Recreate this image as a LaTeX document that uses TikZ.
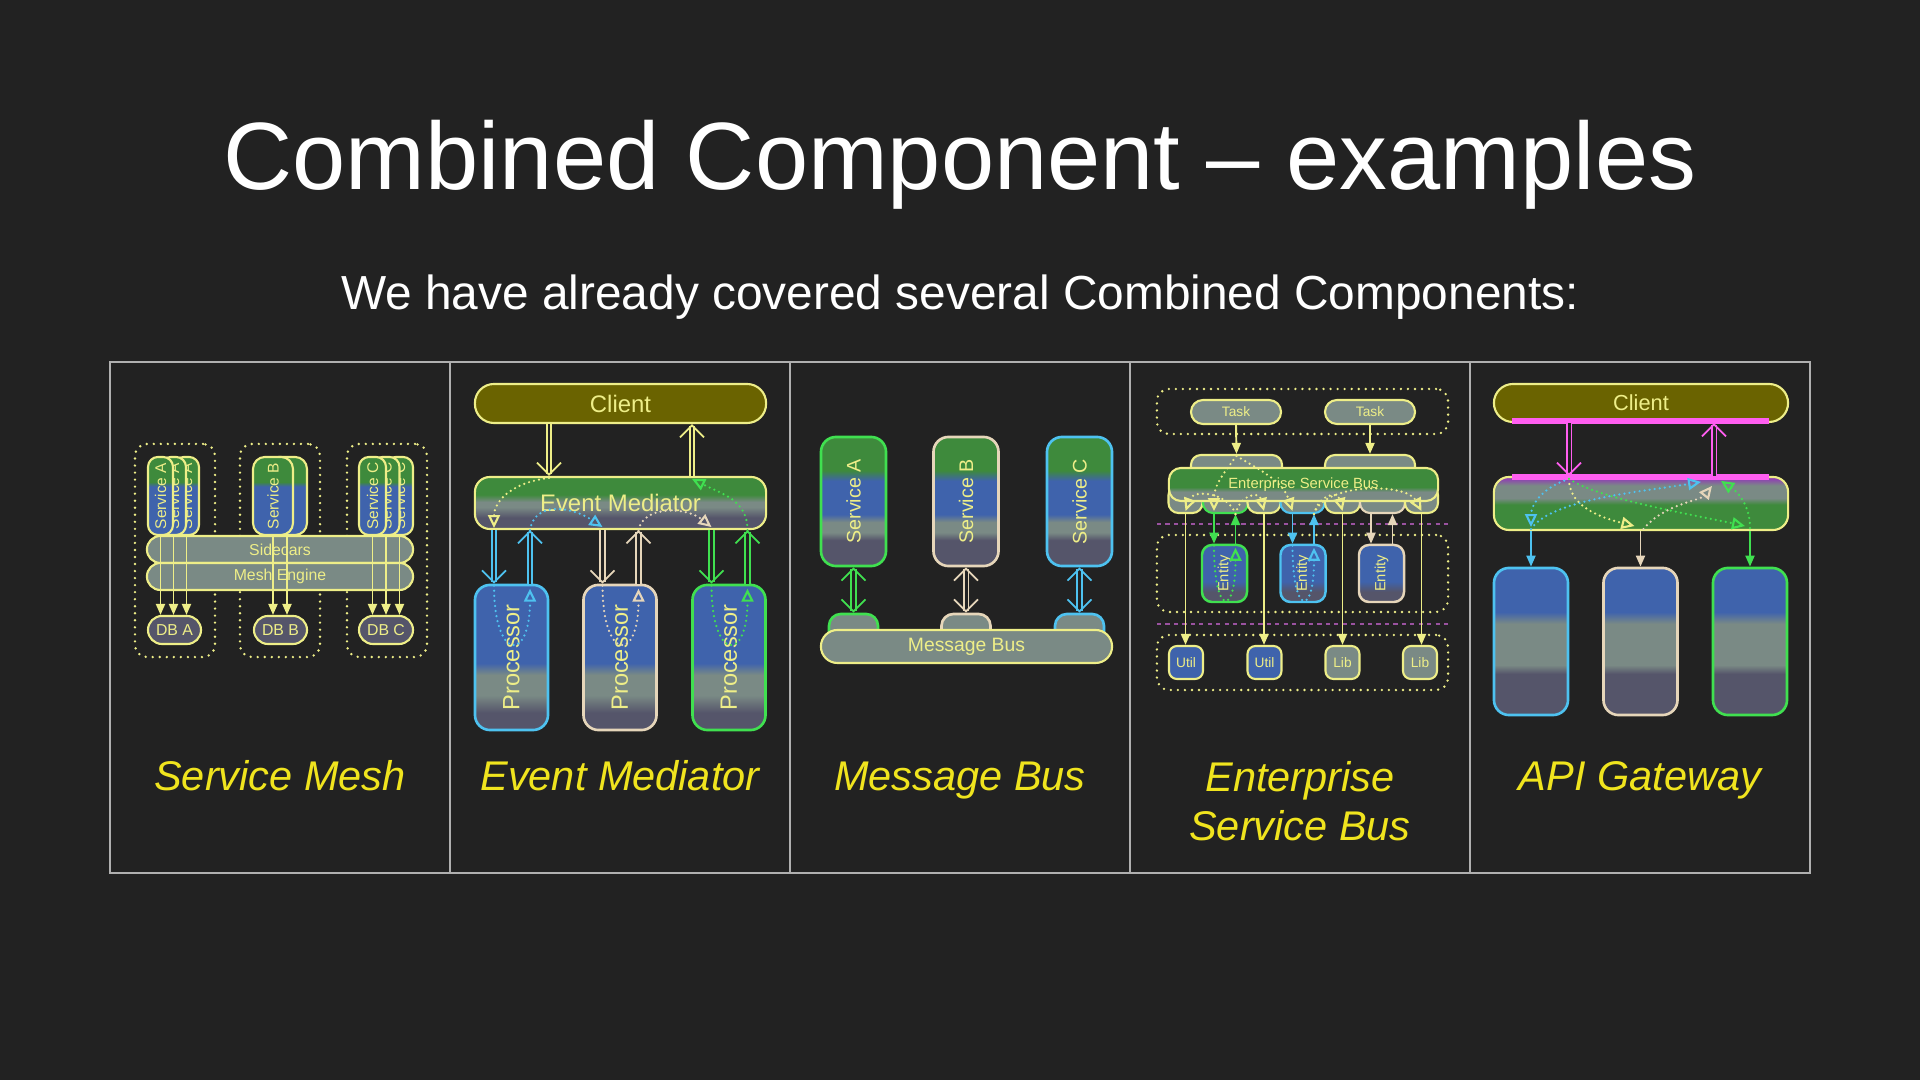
\documentclass[tikz,border=0pt]{standalone}
\usepackage{fontspec}
\setmainfont{Liberation Sans}
\usetikzlibrary{arrows.meta, calc, positioning}

\definecolor{BgColor}{HTML}{222222}
\definecolor{FrameGray}{HTML}{B0B0B0}
\definecolor{LineYellow}{HTML}{EEEE88}
\definecolor{CapYellow}{HTML}{F0E41E}
\definecolor{OliveFill}{HTML}{6A6300}
\definecolor{FillGreen}{HTML}{3E8A3C}
\definecolor{FillBlue}{HTML}{3F63AC}
\definecolor{FillGray}{HTML}{7A8A85}
\definecolor{FillDark}{HTML}{55556A}
\definecolor{FillPurple}{HTML}{8E44B0}
\definecolor{EdgeBlue}{HTML}{4EC2F0}
\definecolor{EdgeBeige}{HTML}{E6D6BA}
\definecolor{EdgeGreen}{HTML}{40E050}
\definecolor{PortMagenta}{HTML}{FF5EF0}
\definecolor{SepPurple}{HTML}{9A52A0}

% vertical shadings, path maps to 25bp..75bp
\pgfdeclareverticalshading{meshSvc}{100bp}{color(0bp)=(FillBlue); color(56bp)=(FillBlue); color(59bp)=(FillGreen); color(100bp)=(FillGreen)}
\pgfdeclareverticalshading{busSvc}{100bp}{color(0bp)=(FillDark); color(35bp)=(FillDark); color(38bp)=(FillGray); color(42bp)=(FillGray); color(45bp)=(FillBlue); color(58bp)=(FillBlue); color(62bp)=(FillGreen); color(100bp)=(FillGreen)}
\pgfdeclareverticalshading{procShade}{100bp}{color(0bp)=(FillDark); color(31bp)=(FillDark); color(37bp)=(FillGray); color(44bp)=(FillGray); color(48bp)=(FillBlue); color(100bp)=(FillBlue)}
\pgfdeclareverticalshading{emShade}{100bp}{color(0bp)=(FillDark); color(36bp)=(FillDark); color(46bp)=(FillGray); color(51bp)=(FillGray); color(58bp)=(FillGreen); color(100bp)=(FillGreen)}
\pgfdeclareverticalshading{gwShade}{100bp}{color(0bp)=(FillGreen); color(49bp)=(FillGreen); color(55bp)=(FillGray); color(67bp)=(FillGray); color(73bp)=(FillPurple); color(100bp)=(FillPurple)}
\pgfdeclareverticalshading{gwSvc}{100bp}{color(0bp)=(FillDark); color(39bp)=(FillDark); color(42bp)=(FillGray); color(56bp)=(FillGray); color(60bp)=(FillBlue); color(100bp)=(FillBlue)}
\pgfdeclareverticalshading{esbShade}{100bp}{color(0bp)=(FillGray); color(39bp)=(FillGray); color(46bp)=(FillGreen); color(100bp)=(FillGreen)}
\pgfdeclareverticalshading{entShade}{100bp}{color(0bp)=(FillDark); color(34bp)=(FillDark); color(43bp)=(FillBlue); color(100bp)=(FillBlue)}

\tikzset{
  lbl/.style={font=\fontsize{#1}{#1}\selectfont},
  box/.style={draw=LineYellow, line width=0.6pt, text=LineYellow, inner sep=0pt, align=center},
  grp/.style={draw=LineYellow, line width=0.75pt, dash pattern=on 0pt off 2pt, line cap=round, rounded corners=0.12cm, inner sep=0pt},
  flow/.style={line width=0.7pt, dash pattern=on 0pt off 1.45pt, line cap=round, -{Triangle[open,length=0.13cm,width=0.12cm,line width=0.6pt]}},
  dbl/.style={double=BgColor, line width=0.45pt, double distance=0.85pt, -{Straight Barb[length=0.12cm,width=0.24cm,line width=0.5pt]}},
  dblboth/.style={double=BgColor, line width=0.45pt, double distance=0.85pt, {Straight Barb[length=0.12cm,width=0.24cm,line width=0.5pt]}-{Straight Barb[length=0.12cm,width=0.24cm,line width=0.5pt]}},
  arr/.style={line width=0.55pt, -{Triangle[length=0.11cm,width=0.09cm]}},
  captext/.style={text=CapYellow, font=\fontsize{11.8}{14.2}\selectfont\itshape, align=center},
  sepline/.style={draw=SepPurple, line width=0.5pt, dash pattern=on 1.2pt off 1.2pt},
  portbar/.style={draw=PortMagenta, line width=1.9pt},
  panelframe/.style={draw=FrameGray, line width=0.6pt},
}

\begin{document}
\begin{tikzpicture}[x=0.01cm, y=-0.01cm]
  \path[use as bounding box, fill=BgColor] (0,0) rectangle (1920,1080);

  \node[text=white, font=\fontsize{27.2}{32}\selectfont, anchor=base] (title) at (960,190) {Combined Component -- examples};
  \node[text=white, font=\fontsize{13.6}{16}\selectfont, anchor=base] (subtitle) at (960,310) {We have already covered several Combined Components:};

  \foreach \x in {110,450,790,1130,1470}
    \draw[panelframe] (\x,362) rectangle ++(340,511);

  % ---- Service Mesh
  \node[grp, minimum width=0.8cm, minimum height=2.13cm] (grpA) at (175,550.5) {};
  \node[grp, minimum width=0.8cm, minimum height=2.13cm] (grpB) at (280,550.5) {};
  \node[grp, minimum width=0.8cm, minimum height=2.13cm] (grpC) at (387,550.5) {};
  \foreach \n/\x in {a3/186.5, a2/173.5, a1/160.5}
    \node[box, shade, shading=meshSvc, rounded corners=0.1cm, minimum width=0.25cm, minimum height=0.78cm, lbl=4.4] (\n) at (\x,496) {\rotatebox{90}{Service A}};
  \foreach \n/\x in {b2/287, b1/273}
    \node[box, shade, shading=meshSvc, rounded corners=0.12cm, minimum width=0.4cm, minimum height=0.78cm, lbl=4.4] (\n) at (\x,496) {\rotatebox{90}{Service B}};
  \foreach \n/\x in {c3/399.5, c2/386, c1/372.5}
    \node[box, shade, shading=meshSvc, rounded corners=0.1cm, minimum width=0.27cm, minimum height=0.78cm, lbl=4.4] (\n) at (\x,496) {\rotatebox{90}{Service C}};
  \node[box, fill=FillGray, rounded corners=0.135cm, minimum width=2.66cm, minimum height=0.27cm, lbl=4.5] (side) at (280,549.5) {Sidecars};
  \node[box, fill=FillGray, rounded corners=0.135cm, minimum width=2.66cm, minimum height=0.27cm, lbl=4.5] (engine) at (280,576.5) {Mesh Engine};
  \node[box, fill=FillDark, rounded corners=0.14cm, minimum width=0.53cm, minimum height=0.28cm, lbl=4.5] (dbA) at (174.5,630) {DB A};
  \node[box, fill=FillDark, rounded corners=0.14cm, minimum width=0.53cm, minimum height=0.28cm, lbl=4.5] (dbB) at (280.5,630) {DB B};
  \node[box, fill=FillDark, rounded corners=0.14cm, minimum width=0.54cm, minimum height=0.28cm, lbl=4.5] (dbC) at (386,630) {DB C};
  \foreach \s/\d in {a1/dbA, a2/dbA, a3/dbA, b1/dbB, b2/dbB, c1/dbC, c2/dbC, c3/dbC}
    \draw[arr, LineYellow] (\s.south) -- (\s.south |- \d.north);

  % ---- Event Mediator
  \node[box, fill=OliveFill, rounded corners=0.19cm, minimum width=2.91cm, minimum height=0.39cm, lbl=6.8] (cliE) at (620.5,403.5) {Client};
  \node[box, shade, shading=emShade, rounded corners=0.15cm, minimum width=2.91cm, minimum height=0.52cm, lbl=6.8] (med) at (620.5,503) {Event Mediator};
  \foreach \n/\x/\c in {p1/511.5/EdgeBlue, p2/620/EdgeBeige, p3/729/EdgeGreen}
    \node[box, shade, shading=procShade, draw=\c, line width=0.75pt, rounded corners=0.15cm, minimum width=0.73cm, minimum height=1.45cm, lbl=6.7] (\n) at (\x,657.5) {\rotatebox{90}{Processor}};
  \draw[dbl, LineYellow] ($(cliE.south)+(-71.5,0)$) -- ($(med.north)+(-71.5,0)$);
  \draw[dbl, LineYellow] ($(med.north)+(71.5,0)$) -- ($(cliE.south)+(71.5,0)$);
  \foreach \n/\c in {p1/EdgeBlue, p2/EdgeBeige, p3/EdgeGreen} {
    \draw[dbl, \c] ($(\n.north |- med.south)+(-17.5,0)$) -- ($(\n.north)+(-17.5,0)$);
    \draw[dbl, \c] ($(\n.north)+(18.5,0)$) -- ($(\n.north |- med.south)+(18.5,0)$);
    \draw[flow, \c] ($(\n.north)+(-17.5,2)$) .. controls +(0,75) and +(0,75) .. ($(\n.north)+(18.5,5)$);
  }
  \draw[flow, LineYellow] ($(med.north)+(-71.5,2)$) .. controls +(-40,5) and +(0,-25) .. ($(p1.north |- med.south)+(-17.5,-2)$);
  \draw[flow, EdgeBlue] ($(p1.north |- med.south)+(18.5,0)$) .. controls +(5,-30) and +(-30,-20) .. ($(p2.north |- med.south)+(-17.5,-3)$);
  \draw[flow, EdgeBeige] ($(p2.north |- med.south)+(18.5,0)$) .. controls +(5,-25) and +(-25,-20) .. ($(p3.north |- med.south)+(-17.5,-3)$);
  \draw[flow, EdgeGreen] ($(p3.north |- med.south)+(18.5,0)$) .. controls +(0,-30) and +(30,15) .. ($(med.north)+(71.5,3)$);

  % ---- Message Bus
  \foreach \n/\x/\c/\t in {sa/853.5/EdgeGreen/A, sb/966/EdgeBeige/B, sc/1079.5/EdgeBlue/C} {
    \node[box, shade, shading=busSvc, draw=\c, line width=0.75pt, rounded corners=0.15cm, minimum width=0.65cm, minimum height=1.29cm, lbl=5.6] (\n) at (\x,501.5) {\rotatebox{90}{Service \t}};
    \node[box, fill=FillGray, draw=\c, line width=0.75pt, rounded corners=0.12cm, minimum width=0.49cm, minimum height=0.3cm] (tab\n) at (\x,629) {};
  }
  \node[box, fill=FillGray, rounded corners=0.165cm, minimum width=2.91cm, minimum height=0.33cm, lbl=5.5] (bus) at (966.5,646.5) {Message Bus};
  \foreach \n/\c in {sa/EdgeGreen, sb/EdgeBeige, sc/EdgeBlue}
    \draw[dblboth, \c] (\n.south) -- (tab\n.north);

  % ---- Enterprise Service Bus
  \node[grp, minimum width=2.91cm, minimum height=0.45cm] (grpTask) at (1302.5,411.5) {};
  \node[box, fill=FillGray, rounded corners=0.12cm, minimum width=0.9cm, minimum height=0.24cm, lbl=3.9] (task1) at (1236,412) {Task};
  \node[box, fill=FillGray, rounded corners=0.12cm, minimum width=0.9cm, minimum height=0.24cm, lbl=3.9] (task2) at (1370,412) {Task};
  \node[box, fill=FillGray, rounded corners=0.1cm, minimum width=0.91cm, minimum height=0.3cm] (tin1) at (1236.5,470) {};
  \node[box, fill=FillGray, rounded corners=0.1cm, minimum width=0.9cm, minimum height=0.3cm] (tin2) at (1370,470) {};
  \draw[arr, LineYellow] (task1.south) -- (tin1.north);
  \draw[arr, LineYellow] (task2.south) -- (tin2.north);
  \foreach \n/\x/\w/\c in {t1/1185.5/0.34/LineYellow, t2/1225.5/0.45/EdgeGreen, t3/1264/0.33/LineYellow, t4/1302.5/0.44/EdgeBlue, t5/1342.5/0.35/LineYellow, t6/1382.5/0.45/EdgeBeige, t7/1421.5/0.33/LineYellow}
    \node[box, fill=FillGray, draw=\c, rounded corners=0.1cm, minimum width=\w cm, minimum height=0.28cm] (\n) at (\x,499) {};
  \node[box, shade, shading=esbShade, rounded corners=0.12cm, minimum width=2.69cm, minimum height=0.33cm, lbl=4.2] (esb) at (1303.5,484.5) {Enterprise Service Bus};
  \draw[sepline] (1157,524) -- (1448,524);
  \draw[sepline] (1157,624) -- (1448,624);
  \node[grp, minimum width=2.91cm, minimum height=0.77cm] (grpEnt) at (1302.5,573.5) {};
  \foreach \n/\x/\c in {e1/1224.5/EdgeGreen, e2/1303/EdgeBlue, e3/1381.5/EdgeBeige}
    \node[box, shade, shading=entShade, draw=\c, line width=0.7pt, rounded corners=0.1cm, minimum width=0.45cm, minimum height=0.57cm, lbl=4.2] (\n) at (\x,573.5) {\rotatebox{90}{Entity}};
  \foreach \t/\e/\c in {t2/e1/EdgeGreen, t4/e2/EdgeBlue, t6/e3/EdgeBeige} {
    \draw[arr, \c] ($(\e.north |- \t.south)+(-10.5,0)$) -- ($(\e.north)+(-10.5,0)$);
    \draw[arr, \c] ($(\e.north)+(11,0)$) -- ($(\e.north |- \t.south)+(11,0)$);
  }
  \draw[flow, EdgeGreen] ($(e1.north)+(-10.5,2)$) .. controls +(0,70) and +(0,70) .. ($(e1.north)+(11,4)$);
  \draw[flow, EdgeBlue] ($(e2.north)+(-10.5,2)$) .. controls +(0,70) and +(0,70) .. ($(e2.north)+(11,4)$);
  \node[grp, minimum width=2.91cm, minimum height=0.55cm] (grpLib) at (1302.5,662.5) {};
  \foreach \n/\x/\f/\t in {u1/1186/FillBlue/Util, u2/1264.5/FillBlue/Util, l1/1342.5/FillGray/Lib, l2/1420/FillGray/Lib}
    \node[box, fill=\f, rounded corners=0.08cm, minimum width=0.34cm, minimum height=0.33cm, lbl=3.9] (\n) at (\x,662.5) {\t};
  \foreach \t/\u in {t1/u1, t3/u2, t5/l1, t7/l2}
    \draw[arr, LineYellow] (\t.south) -- (\t.south |- \u.north);
  \draw[flow, LineYellow] ($(tin1.north)+(0,2)$) .. controls +(-15,20) and +(0,-25) .. ($(e1.north |- t2.south)+(-10.5,-3)$);
  \draw[flow, LineYellow] ($(tin1.north)+(0,2)$) .. controls +(25,15) and +(-10,-30) .. ($(e2.north |- t4.south)+(-10.5,-3)$);
  \draw[flow, LineYellow] ($(e1.north |- t2.south)+(11,0)$) .. controls +(-8,-22) and +(8,-22) .. ($(t1.south)+(0,-3)$);
  \draw[flow, LineYellow] ($(e1.north |- t2.south)+(11,0)$) .. controls +(5,-20) and +(-5,-20) .. ($(t3.south)+(0,-3)$);
  \draw[flow, LineYellow] ($(e2.north |- t4.south)+(11,0)$) .. controls +(5,-20) and +(-5,-20) .. ($(t5.south)+(0,-3)$);
  \draw[flow, LineYellow] ($(e2.north |- t4.south)+(11,0)$) .. controls +(10,-32) and +(-15,-28) .. ($(t7.south)+(0,-3)$);

  % ---- API Gateway
  \node[box, fill=OliveFill, rounded corners=0.19cm, minimum width=2.94cm, minimum height=0.38cm, lbl=6.2] (cliG) at (1641,403) {Client};
  \node[box, shade, shading=gwShade, rounded corners=0.15cm, minimum width=2.94cm, minimum height=0.53cm] (gw) at (1641,503.5) {};
  \draw[portbar] ($(cliG.south west)+(19,-2)$) -- ($(cliG.south east)+(-20,-2)$);
  \draw[portbar] ($(gw.north west)+(19,1)$) -- ($(gw.north east)+(-20,1)$);
  \foreach \n/\x/\c in {g1/1531/EdgeBlue, g2/1640.5/EdgeBeige, g3/1750/EdgeGreen} {
    \node[box, shade, shading=gwSvc, draw=\c, line width=0.75pt, rounded corners=0.15cm, minimum width=0.74cm, minimum height=1.47cm] (\n) at (\x,641.5) {};
    \draw[arr, \c] (\n.north |- gw.south) -- (\n.north);
  }
  \draw[dbl, PortMagenta] ($(cliG.south)+(-72,0)$) -- ($(gw.north)+(-72,0)$);
  \draw[dbl, PortMagenta] ($(gw.north)+(73,0)$) -- ($(cliG.south)+(73,0)$);
  \draw[flow, EdgeBlue] ($(gw.north)+(-72,3)$) .. controls +(-30,10) and +(0,-20) .. ($(g1.north |- gw.south)+(0,-4)$);
  \draw[flow, LineYellow] ($(gw.north)+(-72,3)$) .. controls +(0,25) and +(-40,-10) .. ($(g2.north |- gw.south)+(-6,-5)$);
  \draw[flow, EdgeGreen] ($(gw.north)+(-72,3)$) .. controls +(30,20) and +(-55,-12) .. ($(g3.north |- gw.south)+(-5,-5)$);
  \draw[flow, EdgeBlue] ($(g1.north |- gw.south)+(0,-2)$) .. controls +(20,-30) and +(-60,10) .. ($(gw.north)+(60,6)$);
  \draw[flow, EdgeBeige] ($(g2.north |- gw.south)+(3,-2)$) .. controls +(20,-25) and +(-12,15) .. ($(gw.north)+(71,10)$);
  \draw[flow, EdgeGreen] ($(g3.north |- gw.south)+(0,-3)$) .. controls +(0,-25) and +(15,10) .. ($(gw.north)+(80,5)$);

  % ---- captions
  \node[captext, anchor=base] (capMesh) at (280,791) {Service Mesh};
  \node[captext, anchor=base] (capMed) at (620,791) {Event Mediator};
  \node[captext, anchor=base] (capBus) at (960,791) {Message Bus};
  \node[captext, anchor=base] (capEsb) at (1300,841) {Enterprise\\Service Bus};
  \node[captext, anchor=base] (capGw) at (1640,791) {API Gateway};
\end{tikzpicture}
\end{document}
